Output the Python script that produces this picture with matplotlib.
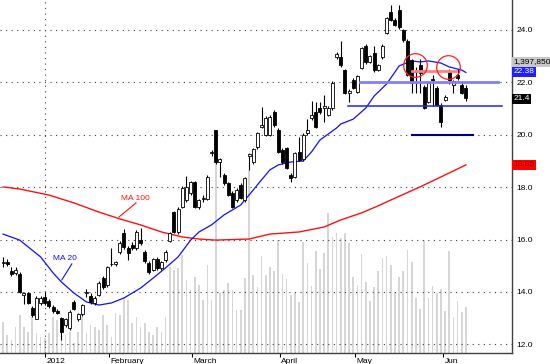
import numpy as np
import matplotlib.pyplot as plt
import matplotlib.transforms as mtransforms

plt.rcParams['font.family'] = ['Liberation Sans', 'DejaVu Sans']

# daily candles, Jan - early Jun 2012
opens = [15.10, 15.15, 14.80, 14.72, 14.70, 13.90, 13.95, 13.39, 12.97, 13.58,
         13.81, 13.66, 13.43, 13.28, 13.00, 12.72, 12.63, 13.62, 12.97, 13.16,
         13.95, 13.85, 13.58, 13.89, 14.53, 14.27, 15.05, 15.07, 15.53, 16.25,
         15.68, 15.79, 15.68, 15.98, 15.53, 15.11, 14.84, 15.26, 14.92, 15.22,
         15.95, 17.05, 16.29, 17.24, 17.51, 17.78, 18.20, 17.24, 17.55, 17.55,
         19.30, 20.18, 18.96, 18.47, 18.16, 17.78, 17.51, 18.08, 17.51, 19.20,
         18.96, 19.53, 20.30, 20.00, 20.00, 20.87, 20.18, 19.42, 19.50, 18.47,
         18.39, 19.34, 19.08, 20.07, 20.64, 20.87, 21.02, 21.02, 20.76, 21.02,
         22.97, 22.97, 22.47, 21.60, 22.09, 21.63, 22.55, 23.39, 22.78, 23.12,
         22.47, 22.97, 23.89, 24.69, 24.38, 24.76, 24.00, 23.58, 22.85, 22.40,
         22.66, 21.82, 21.25, 22.10, 21.79, 21.14, 21.33, 22.40, 21.90, 22.28,
         21.90, 21.79]
highs = [15.35, 15.25, 14.95, 14.95, 14.75, 13.98, 14.00, 13.45, 13.85, 13.85,
         14.00, 13.75, 13.50, 13.35, 13.05, 13.00, 13.30, 13.70, 13.20, 13.55,
         14.10, 13.95, 13.85, 14.40, 14.60, 15.00, 15.68, 15.20, 15.95, 16.40,
         15.75, 15.90, 16.35, 16.44, 15.60, 15.20, 15.30, 15.35, 15.20, 15.60,
         16.30, 17.10, 17.25, 18.05, 18.43, 18.25, 18.25, 17.55, 17.70, 18.45,
         19.40, 20.20, 19.10, 18.55, 18.20, 17.85, 17.95, 18.15, 18.40, 19.31,
         19.50, 20.10, 21.06, 20.70, 20.75, 20.95, 20.25, 19.50, 19.55, 18.55,
         19.35, 19.90, 20.05, 20.60, 21.30, 21.25, 21.25, 21.50, 21.10, 22.05,
         23.15, 23.58, 22.50, 21.75, 22.15, 22.30, 23.35, 23.45, 23.05, 23.40,
         22.70, 23.45, 24.50, 24.95, 24.45, 24.95, 24.05, 23.65, 22.90, 22.60,
         22.90, 21.90, 22.05, 22.30, 21.85, 21.20, 21.50, 22.50, 22.10, 22.50,
         22.00, 21.90]
lows = [14.95, 15.00, 14.60, 14.65, 13.95, 13.55, 13.55, 13.05, 12.95, 13.50,
        13.50, 13.40, 13.20, 13.15, 12.17, 12.65, 12.55, 13.30, 12.90, 13.10,
        13.80, 13.55, 13.50, 13.85, 14.10, 14.20, 15.00, 15.00, 15.45, 15.65,
        15.22, 15.60, 15.60, 15.80, 15.10, 14.70, 14.80, 14.85, 14.85, 15.15,
        15.90, 16.25, 16.20, 17.20, 17.45, 17.70, 17.20, 17.15, 17.45, 17.50,
        19.20, 18.90, 18.39, 18.10, 17.65, 17.20, 17.45, 17.55, 17.45, 18.66,
        18.90, 19.45, 20.25, 19.95, 19.95, 20.30, 19.30, 18.90, 18.70, 18.20,
        18.35, 19.00, 19.00, 20.00, 20.55, 20.25, 20.80, 20.50, 20.70, 20.95,
        22.90, 22.60, 21.55, 21.25, 21.75, 21.60, 22.50, 22.70, 22.75, 22.40,
        22.45, 22.90, 23.85, 24.35, 24.15, 24.05, 23.55, 22.25, 21.60, 21.60,
        21.60, 21.00, 21.20, 21.10, 21.10, 20.30, 21.30, 21.95, 21.60, 22.10,
        21.55, 21.30]
closes = [15.15, 15.05, 14.70, 14.85, 14.00, 13.95, 13.58, 13.12, 13.77, 13.77,
          13.58, 13.47, 13.28, 13.20, 12.47, 12.97, 13.24, 13.35, 13.16, 13.50,
          13.98, 13.62, 13.77, 14.34, 14.19, 14.95, 15.07, 15.15, 15.87, 15.72,
          15.49, 15.68, 16.29, 15.87, 15.18, 14.76, 15.26, 14.92, 15.15, 15.53,
          16.25, 16.29, 17.17, 17.97, 18.01, 18.20, 17.24, 17.51, 17.60, 18.39,
          19.31, 18.96, 19.08, 18.16, 17.70, 17.24, 17.89, 17.59, 18.35, 19.25,
          19.46, 20.07, 20.37, 20.64, 20.68, 20.37, 19.34, 18.96, 18.73, 18.35,
          19.31, 19.04, 20.00, 20.18, 20.76, 20.30, 20.87, 21.10, 21.02, 21.98,
          23.08, 22.66, 21.60, 21.67, 21.79, 22.24, 23.31, 22.78, 23.01, 22.47,
          22.66, 23.39, 24.46, 24.38, 24.19, 24.11, 23.62, 22.28, 21.98, 22.42,
          22.36, 21.02, 21.98, 22.09, 21.14, 20.49, 21.44, 22.09, 22.05, 22.17,
          21.60, 21.40]
# volume, thousands of shares
volume = [942, 547, 395, 790, 1155, 790, 638, 1094, 608, 486,
          456, 608, 1094, 1003, 608, 547, 638, 304, 638, 1094,
          608, 851, 790, 699, 1155, 851, 486, 1216, 1155, 1702,
          1611, 912, 1094, 790, 912, 638, 547, 790, 638, 1094,
          2614, 2523, 2584, 2979, 2219, 1915, 2310, 2067, 1611, 2675,
          1611, 6779, 1824, 1915, 2128, 1915, 1307, 1307, 2280, 5563,
          2371, 2006, 2949, 2371, 2614, 2493, 3435, 2402, 2250, 1763,
          1824, 1550, 3374, 2736, 2037, 3101, 2554, 3040, 4256, 3526,
          3648, 3496, 3648, 3344, 2310, 2067, 3010, 2158, 1581, 2006,
          2493, 2888, 2949, 2675, 1854, 2310, 2493, 3131, 2766, 1672,
          1338, 3435, 1672, 2037, 1824, 1946, 1277, 3101, 1094, 1581,
          1246, 1398]

# moving averages
ma20_idx = [0, 4, 9, 12, 14, 17, 20, 23, 26, 29, 33, 36, 39, 42, 45, 47, 50, 53, 57, 59,
            62, 64, 66, 69, 72, 74, 76, 80, 81, 84, 87, 89, 92, 93, 95, 98, 100, 102,
            105, 107, 110, 111]
ma20 = [16.21, 15.98, 15.34, 14.73, 14.38, 13.96, 13.62, 13.50, 13.58, 13.77, 14.15, 14.53,
        14.92, 15.34, 15.98, 16.29, 16.56, 16.94, 17.32, 17.70, 18.28, 18.66, 18.85, 18.96,
        19.00, 19.35, 19.80, 20.26, 20.41, 20.60, 21.02, 21.48, 21.94, 22.17, 22.63, 22.82,
        22.78, 22.82, 22.74, 22.59, 22.47, 22.38]
ma100_idx = [0, 4, 11, 17, 23, 28, 33, 38, 43, 47, 51, 59, 64, 71, 77, 81, 86, 90, 93,
             100, 105, 111]
ma100 = [18.01, 17.93, 17.70, 17.40, 17.05, 16.79, 16.56, 16.29, 16.10, 16.02, 15.98, 16.02,
         16.21, 16.29, 16.48, 16.75, 17.02, 17.29, 17.51, 18.01, 18.39, 18.85]

month_pos = [10.1, 25.4, 45.3, 66.4, 84.4, 105.5]
month_lbl = ['2012', 'February', 'March', 'April', 'May', 'Jun']

fig = plt.figure(figsize=(5.5, 3.64), dpi=100)
rect = [0, 11/364, 512/550, 353/364]
axv = fig.add_axes(rect)
ax = fig.add_axes(rect)
ax.patch.set_visible(False)

n = len(closes)
x = np.arange(n)

axv.bar(x, volume, width=0.4, color='#d6d6d6', linewidth=0)
axv.set_xlim(-0.72, 122.06)
axv.set_ylim(0, 10731)
axv.axis('off')

ax.set_xlim(-0.72, 122.06)
ax.set_ylim(11.67, 25.145)

for yv in [12, 14, 16, 18, 20, 22, 24]:
    ax.axhline(yv, color='#404040', lw=0.8, ls=(0, (1, 4)), zorder=1)
ax.axvline(month_pos[0], color='#404040', lw=0.8, ls=(0, (1, 4)), zorder=1)

ax.plot(ma100_idx, ma100, color='#ff1010', lw=1.0, zorder=2)
ax.plot(ma20_idx, ma20, color='#1010ff', lw=0.9, zorder=2)

for i in range(n):
    o, h, l, c = opens[i], highs[i], lows[i], closes[i]
    ax.vlines(i, l, h, color='black', lw=0.8, zorder=3)
    up = c >= o
    ax.bar(i, abs(c - o) if abs(c - o) > 0.03 else 0.03, bottom=min(o, c), width=0.72,
           color='white' if up else 'black', edgecolor='black', linewidth=0.6, zorder=4)

# drawn trend/support lines
ax.plot([85.6, 118.7], [22.0, 22.0], color='#8080ff', lw=2, zorder=5)
ax.plot([82.7, 119.7], [21.1, 21.1], color='#2020ff', lw=1.1, zorder=5)
ax.plot([98.1, 112.7], [20.0, 20.0], color='#000080', lw=1.5, zorder=5)
ax.plot([98.1, 108.6], [22.42, 22.42], color='#ff8080', lw=2, zorder=5)
ax.plot([98.8, 106.7], [22.66, 22.59], 'o', ms=17, mfc='none', mec='#ff2020', mew=0.9, zorder=6)

ax.text(31.7, 17.55, 'MA 100', color='#ff1010', fontsize=6, ha='center', va='center')
ax.plot([31.9, 27.8], [17.40, 16.86], color='#ff1010', lw=0.8)
ax.text(14.9, 15.26, 'MA 20', color='#1010ff', fontsize=6, ha='center', va='center')
ax.plot([16.5, 14.1], [15.07, 14.46], color='#1010ff', lw=0.8)

for s in ['left', 'top']:
    ax.spines[s].set_visible(False)
for s in ['right', 'bottom']:
    ax.spines[s].set_color('#404040')
    ax.spines[s].set_linewidth(1.0)

ax.yaxis.tick_right()
ax.set_yticks([12, 14, 16, 18, 20, 22, 24])
ax.set_yticklabels(['12.0', '14.0', '16.0', '18.0', '20.0', '22.0', '24.0'])
ax.tick_params(axis='y', length=0, pad=3, labelsize=6)

ax.set_xticks(month_pos)
ax.set_xticklabels(month_lbl, ha='left')
ax.tick_params(axis='x', length=3, width=0.8, pad=0.5, labelsize=6, direction='out')
offset = mtransforms.ScaledTranslation(1.5/100, 0, fig.dpi_scale_trans)
for lbl in ax.get_xticklabels():
    lbl.set_transform(lbl.get_transform() + offset)

trans = mtransforms.blended_transform_factory(ax.transAxes, ax.transData)
tags = [(22.78, '1,397,850', '#c8c8c8', 'black'),
        (22.40, '22.38', '#2020ff', 'white'),
        (21.37, '21.4', 'black', 'white'),
        (18.85, '18.85', '#ff0000', '#900000')]
for yv, t, bg, fg in tags:
    ax.text(1.003, yv, t, transform=trans, fontsize=6, color=fg, va='center', ha='left',
            bbox=dict(boxstyle='square,pad=0.15', fc=bg, ec='none'), clip_on=False, zorder=7)

fig.savefig('out.png', dpi=100, facecolor='white')
